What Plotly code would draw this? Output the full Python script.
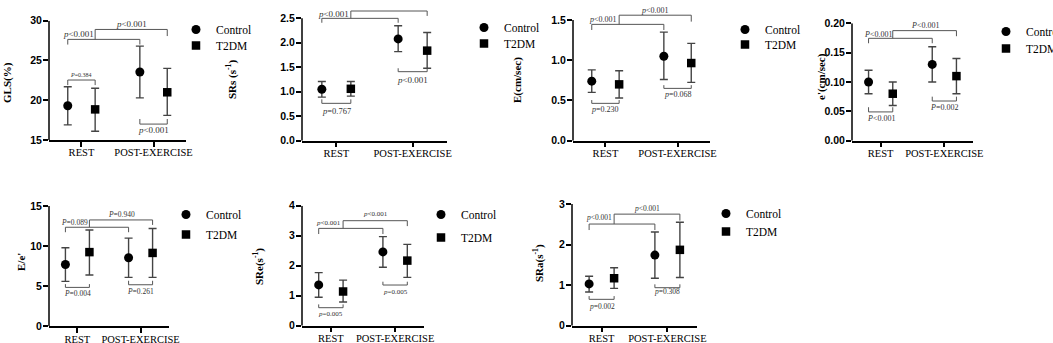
import plotly.graph_objects as go

W, H = 1053, 343

# ---------------- data ----------------
groups = ["REST", "POST-EXERCISE"]
series = ["Control", "T2DM"]

gls_ctrl = [19.3, 23.55]; gls_ctrl_lo = [16.9, 20.3]; gls_ctrl_hi = [21.7, 26.8]
gls_t2dm = [18.85, 21.0]; gls_t2dm_lo = [16.1, 18.1]; gls_t2dm_hi = [21.5, 24.0]
gls_p = ["p<0.001", "p<0.001", "P=0.384", "p<0.001"]

srs_ctrl = [1.05, 2.08]; srs_ctrl_lo = [0.89, 1.82]; srs_ctrl_hi = [1.21, 2.35]
srs_t2dm = [1.06, 1.84]; srs_t2dm_lo = [0.91, 1.48]; srs_t2dm_hi = [1.21, 2.21]
srs_p = ["p<0.001", "p<0.001", "p=0.767", "p<0.001"]

e_ctrl = [0.74, 1.05]; e_ctrl_lo = [0.60, 0.76]; e_ctrl_hi = [0.88, 1.35]
e_t2dm = [0.70, 0.965]; e_t2dm_lo = [0.53, 0.725]; e_t2dm_hi = [0.87, 1.21]
e_p = ["p<0.001", "p<0.001", "p=0.230", "p=0.068"]

ep_ctrl = [0.10, 0.13]; ep_ctrl_lo = [0.08, 0.10]; ep_ctrl_hi = [0.12, 0.16]
ep_t2dm = [0.08, 0.11]; ep_t2dm_lo = [0.06, 0.08]; ep_t2dm_hi = [0.10, 0.14]
ep_p = ["P<0.001", "P<0.001", "P<0.001", "P=0.002"]

eep_ctrl = [7.7, 8.55]; eep_ctrl_lo = [5.6, 6.1]; eep_ctrl_hi = [9.8, 11.0]
eep_t2dm = [9.25, 9.15]; eep_t2dm_lo = [6.4, 6.1]; eep_t2dm_hi = [12.0, 12.2]
eep_p = ["P=0.089", "P=0.940", "P=0.004", "P=0.261"]

sre_ctrl = [1.36, 2.46]; sre_ctrl_lo = [0.95, 1.95]; sre_ctrl_hi = [1.77, 2.97]
sre_t2dm = [1.14, 2.17]; sre_t2dm_lo = [0.79, 1.61]; sre_t2dm_hi = [1.52, 2.71]
sre_p = ["p<0.001", "p<0.001", "p=0.005", "p=0.005"]

sra_ctrl = [1.03, 1.74]; sra_ctrl_lo = [0.83, 1.17]; sra_ctrl_hi = [1.22, 2.31]
sra_t2dm = [1.17, 1.87]; sra_t2dm_lo = [0.92, 1.19]; sra_t2dm_hi = [1.43, 2.55]
sra_p = ["p<0.001", "p<0.001", "p=0.002", "p=0.308"]

gls_ticks = [15, 20, 25, 30]
srs_ticks = [0.0, 0.5, 1.0, 1.5, 2.0, 2.5]
e_ticks = [0.0, 0.5, 1.0, 1.5]
ep_ticks = [0.00, 0.05, 0.10, 0.15, 0.20]
eep_ticks = [0, 5, 10, 15]
sre_ticks = [0, 1, 2, 3, 4]
sra_ticks = [0, 1, 2, 3]

panels = [
    dict(title="<b>GLS(%)</b>", c=gls_ctrl, clo=gls_ctrl_lo, chi=gls_ctrl_hi,
         t=gls_t2dm, tlo=gls_t2dm_lo, thi=gls_t2dm_hi, ticks=gls_ticks, fmt="{:.0f}", p=gls_p),
    dict(title="<b>SRs (s<sup>-1</sup>)</b>", c=srs_ctrl, clo=srs_ctrl_lo, chi=srs_ctrl_hi,
         t=srs_t2dm, tlo=srs_t2dm_lo, thi=srs_t2dm_hi, ticks=srs_ticks, fmt="{:.1f}", p=srs_p),
    dict(title="<b>E(cm/sec)</b>", c=e_ctrl, clo=e_ctrl_lo, chi=e_ctrl_hi,
         t=e_t2dm, tlo=e_t2dm_lo, thi=e_t2dm_hi, ticks=e_ticks, fmt="{:.1f}", p=e_p),
    dict(title="<b>e'(cm/sec)</b>", c=ep_ctrl, clo=ep_ctrl_lo, chi=ep_ctrl_hi,
         t=ep_t2dm, tlo=ep_t2dm_lo, thi=ep_t2dm_hi, ticks=ep_ticks, fmt="{:.2f}", p=ep_p),
    dict(title="<b>E/e'</b>", c=eep_ctrl, clo=eep_ctrl_lo, chi=eep_ctrl_hi,
         t=eep_t2dm, tlo=eep_t2dm_lo, thi=eep_t2dm_hi, ticks=eep_ticks, fmt="{:.0f}", p=eep_p),
    dict(title="<b>SRe(s<sup>-1</sup>)</b>", c=sre_ctrl, clo=sre_ctrl_lo, chi=sre_ctrl_hi,
         t=sre_t2dm, tlo=sre_t2dm_lo, thi=sre_t2dm_hi, ticks=sre_ticks, fmt="{:.0f}", p=sre_p),
    dict(title="<b>SRa(s<sup>-1</sup>)</b>", c=sra_ctrl, clo=sra_ctrl_lo, chi=sra_ctrl_hi,
         t=sra_t2dm, tlo=sra_t2dm_lo, thi=sra_t2dm_hi, ticks=sra_ticks, fmt="{:.0f}", p=sra_p),
]

# ---------------- layout / positions (pixels) ----------------
# left px, right px, top px of plot area, bottom px, y range top
boxes = [
    (49, 186, 20.7, 140.0, 30),
    (302, 447, 8.56, 140.67, 2.7),
    (573, 710, 10.36, 140.67, 1.62),
    (852, 973, 23.3, 140.67, 0.2),
    (49, 169, 206.0, 326.3, 15),
    (302, 424, 205.7, 325.7, 4),
    (572, 697, 204.0, 325.7, 3),
]
# y-title centre (px)
title_pos = [(8, 83), (231, 80), (517, 80), (821, 77), (21, 262), (258, 267), (538, 263)]
# legend marker centres (px): x, y(Control), y(T2DM)
legend_pos = [(196, 28, 44), (484, 26, 42), (745, 28, 43), (1006, 30, 47),
              (186, 213, 233), (441, 213, 236), (726, 212, 230)]
# bracket geometry per panel: (ybar, yleg_a, yleg_b, label_y) for top1, top2, rest, post
brackets = [
    [(27.65, 27.0, 27.0, 28.35), (28.9, 27.65, 28.07, 29.6), (22.54, 21.9, 21.9, 23.15), (17.0, 17.64, 17.64, 16.25)],
    [(2.5, 2.41, 2.41, 2.59), (2.65, 2.5, 2.55, 2.78), (0.763, 0.845, 0.845, 0.61), (1.41, 1.48, 1.48, 1.245)],
    [(1.446, 1.376, 1.376, 1.51), (1.56, 1.446, 1.48, 1.615), (0.464, 0.505, 0.505, 0.39), (0.65, 0.69, 0.69, 0.575)],
    [(0.1744, 0.166, 0.166, 0.1815), (0.1875, 0.1744, 0.178, 0.1965), (0.049, 0.057, 0.057, 0.038), (0.0676, 0.075, 0.075, 0.056)],
    [(12.35, 11.73, 11.73, 13.0), (13.26, 12.35, 12.64, 14.0), (4.85, 5.26, 5.26, 4.06), (5.18, 5.68, 5.68, 4.35)],
    [(3.244, 3.056, 3.056, 3.43), (3.5, 3.244, 3.32, 3.71), (0.6, 0.71, 0.71, 0.38), (1.356, 1.467, 1.467, 1.12)],
    [(2.506, 2.358, 2.358, 2.66), (2.75, 2.506, 2.59, 2.89), (0.65, 0.73, 0.73, 0.485), (0.937, 1.02, 1.02, 0.84)],
]
label_sizes = [[9, 9, 6, 9], [9, 9, 8.5, 9], [8, 8, 8, 8], [8, 8, 8, 8],
               [7.5, 7.5, 7.5, 7.5], [7, 7, 7, 7], [7.5, 7.5, 7.5, 7.5]]

OFF = 0.19
XR = [-0.45, 1.45]
SERIF = "Liberation Serif, Times New Roman, serif"
SANS = "Liberation Sans, Arial, sans-serif"


def ptxt(s):
    s = s.replace("<", "&lt;")
    return "<i>" + s[0] + "</i>" + s[1:]


fig = go.Figure()
layout = dict(width=W, height=H, margin=dict(l=0, r=0, t=0, b=0, autoexpand=False),
              paper_bgcolor="white", plot_bgcolor="white", showlegend=True)
shapes, annotations = [], []
leg_count = 0

for i, (pn, bx) in enumerate(zip(panels, boxes)):
    n = "" if i == 0 else str(i + 1)
    xa, ya = "x" + n, "y" + n
    left, right, top, bottom, ytop_ext = bx
    ymin = pn["ticks"][0]
    ytick_top = pn["ticks"][-1]
    lmx, lmy_c, lmy_t = legend_pos[i]

    for s_idx, (name, m, lo, hi, sym, size, lmy) in enumerate([
        ("Control", pn["c"], pn["clo"], pn["chi"], "circle", 9, lmy_c),
        ("T2DM", pn["t"], pn["tlo"], pn["thi"], "square", 8.5, lmy_t),
    ]):
        leg_count += 1
        lg = "legend" if leg_count == 1 else "legend" + str(leg_count)
        sign = -1 if s_idx == 0 else 1
        xs = [g + sign * OFF for g in range(len(groups))]
        fig.add_trace(go.Scatter(
            x=xs, y=m, mode="markers", name=name, xaxis=xa, yaxis=ya, legend=lg,
            marker=dict(symbol=sym, size=size, color="black"),
            error_y=dict(type="data", symmetric=False,
                         array=[h - v for h, v in zip(hi, m)],
                         arrayminus=[v - l for v, l in zip(m, lo)],
                         color="#444", thickness=1.4, width=4),
            cliponaxis=False, showlegend=True,
        ))
        layout[lg] = dict(x=(lmx - 20) / W, y=1 - (lmy - 13) / H, xanchor="left", yanchor="top",
                          bgcolor="rgba(0,0,0,0)", borderwidth=0, itemwidth=30,
                          font=dict(family=SERIF, size=11.5, color="black"))

    layout["xaxis" + n] = dict(
        domain=[left / W, right / W], anchor=ya, range=XR,
        tickvals=[0, 1], ticktext=groups, ticks="outside", ticklen=5, tickwidth=1.5,
        tickcolor="black", showline=True, linecolor="black", linewidth=1.5,
        showgrid=False, zeroline=False, fixedrange=True, ticklabelstandoff=-3,
        tickfont=dict(family=SERIF, size=10.5, color="black"))
    layout["yaxis" + n] = dict(
        domain=[1 - bottom / H, 1 - top / H], anchor=xa, range=[ymin, ytop_ext],
        tickvals=pn["ticks"], ticktext=[pn["fmt"].format(v) for v in pn["ticks"]],
        ticks="outside", ticklen=5, tickwidth=1.5, tickcolor="black",
        showline=False, showgrid=False, zeroline=False, fixedrange=True,
        ticklabelstandoff=-1,
        tickfont=dict(family=SANS, size=10.5, color="black", weight="bold"))
    # y axis spine up to the top tick
    shapes.append(dict(type="line", xref=xa + " domain", yref=ya, x0=0, x1=0,
                       y0=ymin, y1=ytick_top, line=dict(color="black", width=1.5)))

    # brackets
    pos = lambda g, s: g + (-OFF if s == 0 else OFF)
    ends = [((0, 0), (1, 0)), ((0, 1), (1, 1)), ((0, 0), (0, 1)), ((1, 0), (1, 1))]
    label_x = [-0.04, 0.69, 0, 1]
    for k, ((a, b), br) in enumerate(zip(ends, brackets[i])):
        ybar, yla, ylb, ylab = br
        xa0, xb0 = pos(*a), pos(*b)
        path = f"M {xa0},{yla} L {xa0},{ybar} L {xb0},{ybar} L {xb0},{ylb}"
        shapes.append(dict(type="path", xref=xa, yref=ya, path=path,
                           line=dict(color="#555", width=1)))
        annotations.append(dict(x=label_x[k], y=ylab, xref=xa, yref=ya, showarrow=False,
                                text=ptxt(pn["p"][k]), xanchor="center", yanchor="middle",
                                font=dict(family=SERIF, size=label_sizes[i][k], color="#333")))

    # y title
    tx, ty = title_pos[i]
    annotations.append(dict(x=tx / W, y=1 - ty / H, xref="paper", yref="paper", showarrow=False,
                            text=pn["title"], textangle=-90, xanchor="center", yanchor="middle",
                            font=dict(family=SERIF, size=11, color="black")))

layout["shapes"] = shapes
layout["annotations"] = annotations
fig.update_layout(**layout)
fig.write_html("out.html", config={"displayModeBar": False},
               post_script="document.body.style.margin='0px';")
